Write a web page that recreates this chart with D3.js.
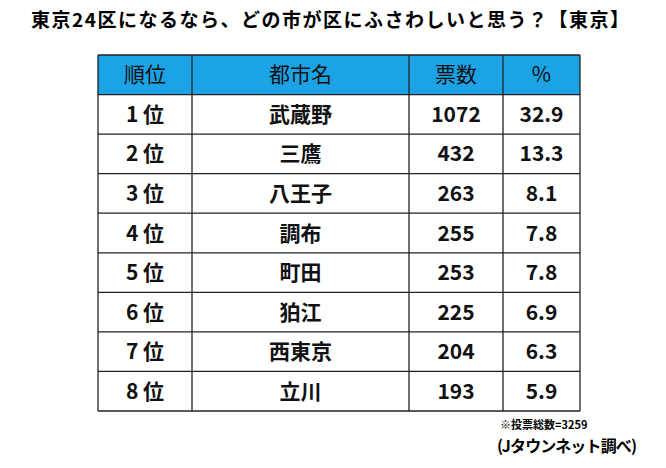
<!DOCTYPE html>
<html><head><meta charset="utf-8">
<script src="https://cdn.jsdelivr.net/npm/d3@7"></script>
<style>body{margin:0;background:#fff}</style>
</head><body>
<script>
// Table data
const headers = ['順位', '都市名', '票数', '%'];
const ranks = ['1 位', '2 位', '3 位', '4 位', '5 位', '6 位', '7 位', '8 位'];
const cities = ['武蔵野', '三鷹', '八王子', '調布', '町田', '狛江', '西東京', '立川'];
const votes = [1072, 432, 263, 255, 253, 225, 204, 193];
const percents = ['32.9', '13.3', '8.1', '7.8', '7.8', '6.9', '6.3', '5.9'];

const font = '"Noto Sans CJK JP", sans-serif';
const svg = d3.select('body').append('svg')
    .attr('width', 666).attr('height', 468);

svg.append('text')
    .attr('x', 330).attr('y', 27)
    .attr('text-anchor', 'middle')
    .attr('textLength', 598)
    .style('font-family', font).style('font-weight', 'bold').style('font-size', '19px')
    .text('東京24区になるなら、どの市が区にふさわしいと思う？【東京】');

// Column edges
const colEdges = [98, 192, 409, 503, 580];
const y = d3.scaleBand().domain(d3.range(9)).range([55, 411]);

const rows = [headers].concat(ranks.map((r, i) => [r, cities[i], votes[i], percents[i]]));

svg.append('rect')
    .attr('x', colEdges[0]).attr('y', y(0))
    .attr('width', colEdges[4] - colEdges[0]).attr('height', y.bandwidth())
    .attr('fill', '#1ca3e6');

rows.forEach((row, r) => {
  row.forEach((cell, c) => {
    svg.append('text')
      .attr('x', (colEdges[c] + colEdges[c + 1]) / 2)
      .attr('y', y(r) + y.bandwidth() / 2)
      .attr('dy', '0.36em')
      .attr('text-anchor', 'middle')
      .style('font-family', font)
      .style('font-weight', r === 0 ? 'normal' : 'bold')
      .style('font-size', '21px')
      .attr('fill', '#111')
      .text(cell);
  });
});

// Grid lines
const g = svg.append('g').attr('stroke', '#222').attr('stroke-width', 1.3);
d3.range(10).forEach(r => {
  const yy = r < 9 ? y(r) : y(8) + y.bandwidth();
  g.append('line').attr('x1', colEdges[0]).attr('x2', colEdges[4]).attr('y1', yy).attr('y2', yy);
});
colEdges.forEach(x => {
  g.append('line').attr('x1', x).attr('x2', x).attr('y1', y(0)).attr('y2', y(8) + y.bandwidth());
});

svg.append('text')
    .attr('x', 500).attr('y', 429)
    .style('font-family', font).style('font-weight', 'bold').style('font-size', '11px')
    .text('※投票総数=3259');
svg.append('text')
    .attr('x', 497).attr('y', 452)
    .attr('textLength', 140)
    .style('font-family', font).style('font-weight', 'bold').style('font-size', '16px')
    .text('(Jタウンネット調べ)');
</script>
</body></html>
